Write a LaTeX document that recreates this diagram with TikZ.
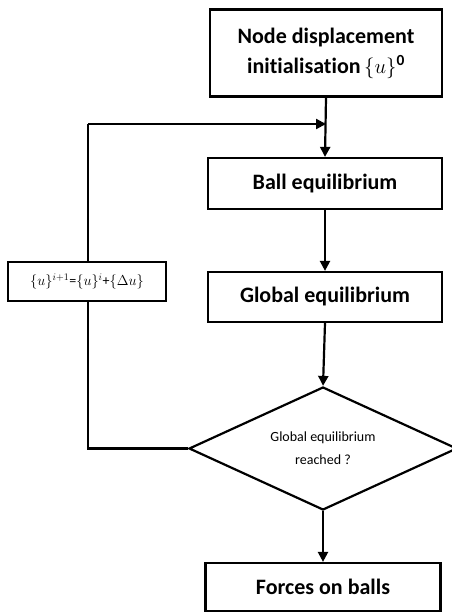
\documentclass[tikz,border=0pt]{standalone}
\usepackage{fontspec}
\setmainfont{Carlito}[Ligatures={NoCommon}]
\usetikzlibrary{shapes.geometric,arrows.meta}

\begin{document}
\begin{tikzpicture}[x=1pt,y=-1pt,line width=2.2pt,
	stepbox/.style={draw,rectangle,inner sep=0pt,fill=white,align=center,font=\fontsize{22}{30}\selectfont\bfseries},
	testbox/.style={draw,diamond,aspect=2.18,inner sep=0pt,minimum width=268,minimum height=123,align=center,font=\fontsize{14}{23}\selectfont},
	updbox/.style={draw,rectangle,inner sep=0pt,fill=white,minimum width=158,minimum height=39,font=\fontsize{14}{16}\selectfont},
	arr/.style={-{Triangle[length=10pt,width=10pt]}}]
	\useasboundingbox (0,0) rectangle (452,613);
		\node[stepbox,minimum width=232,minimum height=87] (init) at (326,53) {Node displacement\\initialisation\,$\{u\}^{\mathbf{0}}$};
		\node[stepbox,minimum width=234,minimum height=51] (ball) at (325,183.5) {Ball equilibrium};
		\node[stepbox,minimum width=234,minimum height=50] (glob) at (325,297) {Global equilibrium};
		\node[testbox] (test) at (323,448.5) {Global equilibrium\\reached ?};
		\node[stepbox,minimum width=235,minimum height=48] (forces) at (323,587) {Forces on balls};
		\coordinate (join) at (init.south |- 0,124);
		\coordinate (ltop) at (88,124);
		\coordinate (lbot) at (88,448.5);
		% loop back
		\draw (test.west)--(lbot)--(ltop);
		\draw[arr] (ltop)--(join);
		\node[updbox] (upd) at (87,281.5) {$\{u\}^{i+1}$=$\{u\}^{i}$+$\{\Delta u\}$};
		\draw[arr] (init.south)--(ball.north);
		\draw[arr] (ball.south)--(glob.north);
		\draw[arr] (glob.south)--(test.north);
		\draw[arr] (test.south)--(forces.north);
	\end{tikzpicture}
\end{document}
